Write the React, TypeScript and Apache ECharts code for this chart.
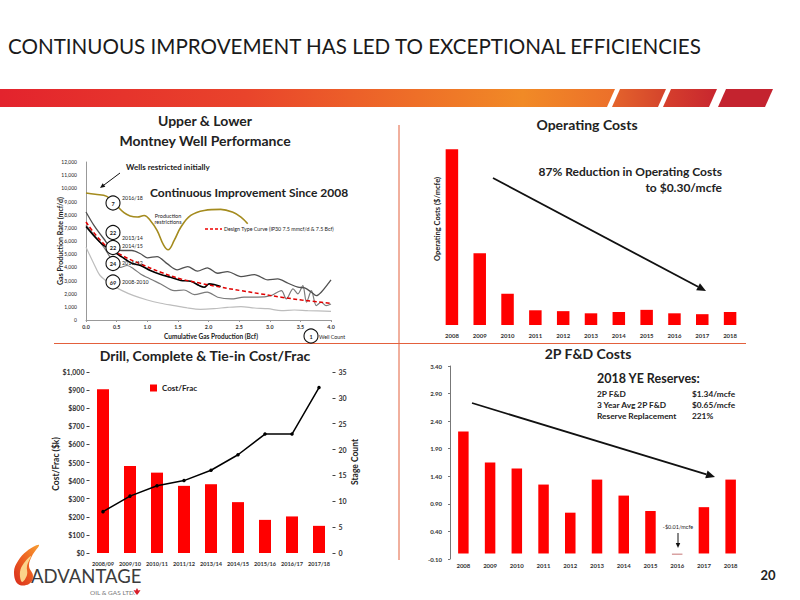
import React, { useEffect, useRef } from "react";
import * as echarts from "echarts";

// ---------- DATA ----------
// Upper & Lower Montney well performance: [cumulative Bcf, rate mcf/d]
const vintage2016_18: [number, number][] = [
  [0, 9650], [0.15, 9550], [0.34, 9390], [0.5, 8700], [0.62, 8150], [0.72, 7900], [0.84, 7820], [0.95, 7940],
  [1.05, 7560], [1.16, 6800], [1.27, 5660], [1.34, 5330], [1.44, 6040], [1.55, 7060], [1.71, 7940],
  [1.93, 8320], [2.2, 8400], [2.39, 8200], [2.53, 7820], [2.64, 7310],
];
const vintage2013_14: [number, number][] = [
  [0, 8200], [0.13, 7180], [0.29, 6170], [0.43, 5400], [0.59, 5280], [0.75, 5280], [0.89, 5030], [1.0, 4720],
  [1.16, 4820], [1.33, 4260], [1.49, 3810], [1.66, 4060], [1.82, 3710], [1.98, 3960], [2.15, 3550],
  [2.31, 3680], [2.53, 3300], [2.75, 3450], [2.97, 3050], [3.13, 3120], [3.3, 2790], [3.46, 2490],
  [3.57, 2440], [3.68, 2110], [3.76, 1850], [3.84, 2110], [3.95, 2740], [4.0, 3050],
];
const vintage2014_15: [number, number][] = [
  [0, 7100], [0.15, 6290], [0.29, 5660], [0.43, 5280], [0.59, 4770], [0.75, 4310], [0.89, 4140], [1.05, 3760],
  [1.22, 3450], [1.38, 3250], [1.55, 3000], [1.71, 2940], [1.85, 2610], [1.93, 2490], [2.01, 2740],
  [2.09, 2690], [2.2, 2540],
];
const vintage2011_12: [number, number][] = [
  [0, 7200], [0.29, 5530], [0.43, 4520], [0.56, 4000], [0.67, 4140], [0.78, 3880], [0.89, 3500], [1.05, 3120],
  [1.22, 2740], [1.44, 2230], [1.6, 2280], [1.77, 1930], [1.98, 2110], [2.15, 1730], [2.37, 1600],
  [2.58, 1730], [2.8, 1730], [3.02, 1850], [3.19, 2230], [3.27, 1600], [3.38, 2360], [3.46, 1980],
  [3.54, 2610], [3.6, 1350], [3.68, 2230], [3.76, 1090], [3.84, 1350], [3.92, 1090], [4.0, 1220],
];
const vintage2008_10: [number, number][] = [
  [0, 5530], [0.13, 4260], [0.23, 3380], [0.4, 2740], [0.59, 2230], [0.78, 1850], [1.0, 1520], [1.22, 1270],
  [1.44, 1090], [1.66, 910], [1.87, 810], [2.09, 860], [2.31, 960], [2.53, 1020], [2.75, 910], [2.97, 860],
  [3.19, 710], [3.4, 760], [3.62, 710], [4.0, 660],
];
const designTypeCurve: [number, number][] = [
  [0, 7440], [0.29, 5790], [0.59, 4900], [0.89, 4260], [1.22, 3630], [1.55, 3120], [1.87, 2790], [2.2, 2490],
  [2.53, 2230], [2.86, 1980], [3.19, 1730], [3.52, 1520], [4.0, 1270],
];
const wellCircles = ["7", "22", "22", "24", "69"];
const wellVintages = ["2016/18", "2013/14", "2014/15", "2011/12", "2008-2010"];

// Operating costs ($/mcfe)
const opexYears = ["2008", "2009", "2010", "2011", "2012", "2013", "2014", "2015", "2016", "2017", "2018"];
const opexValues = [4.06, 1.66, 0.72, 0.34, 0.32, 0.27, 0.3, 0.35, 0.27, 0.25, 0.3];

// Drill, complete & tie-in cost per frac
const fracPeriods = ["2008/09", "2009/10", "2010/11", "2011/12", "2013/14", "2014/15", "2015/16", "2016/17", "2017/18"];
const fracCost = [905, 481, 444, 371, 380, 281, 183, 202, 150];
const stageCount = [8, 11, 13, 14, 16, 19, 23, 23, 32];

// 2P F&D costs ($/mcfe)
const fdYears = ["2008", "2009", "2010", "2011", "2012", "2013", "2014", "2015", "2016", "2017", "2018"];
const fdValues = [2.21, 1.65, 1.54, 1.25, 0.74, 1.34, 1.05, 0.77, -0.01, 0.84, 1.34];

const reserveLabels = ["2P F&D", "3 Year Avg 2P F&D", "Reserve Replacement"];
const reserveValues = ["$1.34/mcfe", "$0.65/mcfe", "221%"];

// ---------- HELPERS ----------
const FONT = "Lato, 'Open Sans', sans-serif";
const RED = "#ff0000";

function txt(text: string, x: number, y: number, size: number, opts: any = {}) {
  return {
    type: "text",
    x,
    y,
    rotation: opts.rotation || 0,
    z: opts.z ?? 50,
    style: {
      text,
      fontSize: size,
      fontFamily: FONT,
      fontWeight: opts.weight || "normal",
      fill: opts.fill || "#222",
      align: opts.align || "left",
      textAlign: opts.align || "left",
      verticalAlign: "middle",
      textVerticalAlign: "middle",
    },
  };
}

function arrow(x1: number, y1: number, x2: number, y2: number, w: number, head: number) {
  const a = Math.atan2(y2 - y1, x2 - x1);
  const bx = x2 - head * Math.cos(a);
  const by = y2 - head * Math.sin(a);
  const hw = head * 0.45;
  return [
    { type: "line", z: 60, shape: { x1, y1, x2: bx, y2: by }, style: { stroke: "#111", lineWidth: w } },
    {
      type: "polygon",
      z: 60,
      shape: {
        points: [
          [x2, y2],
          [bx + hw * Math.sin(a), by - hw * Math.cos(a)],
          [bx - hw * Math.sin(a), by + hw * Math.cos(a)],
        ],
      },
      style: { fill: "#111" },
    },
  ];
}

function circleLabel(cx: number, cy: number, label: string) {
  return [
    { type: "circle", z: 80, shape: { cx, cy, r: 7 }, style: { fill: "#fff", stroke: "#111", lineWidth: 1.1 } },
    txt(label, cx, cy + 0.5, 5.5, { align: "center", weight: "bold", z: 81 }),
  ];
}

export default function App() {
  const ref = useRef<HTMLDivElement>(null);

  useEffect(() => {
    if (!ref.current) return;
    const chart = echarts.init(ref.current, undefined, { renderer: "svg" });

    const smallLabel = { fontSize: 6, fontFamily: FONT, fontWeight: "bold", color: "#333" };

    const graphics: any[] = [];
    // header
    graphics.push(txt("CONTINUOUS IMPROVEMENT HAS LED TO EXCEPTIONAL EFFICIENCIES", 8, 46, 20.6, { fill: "#1a1a1a" }));
    graphics.push({
      type: "polygon",
      shape: { points: [[0, 89], [615, 89], [607, 107], [0, 107]] },
      style: {
        fill: new echarts.graphic.LinearGradient(0, 0, 1, 0, [
          { offset: 0, color: "#e3232d" },
          { offset: 0.4, color: "#e9442b" },
          { offset: 0.85, color: "#f18a26" },
          { offset: 1, color: "#ec6f2a" },
        ]),
      },
    });
    graphics.push({
      type: "polygon",
      shape: { points: [[620, 89], [666, 89], [658, 107], [612, 107]] },
      style: { fill: new echarts.graphic.LinearGradient(0, 0, 1, 0, [{ offset: 0, color: "#e4642c" }, { offset: 1, color: "#d4432c" }]) },
    });
    graphics.push({
      type: "polygon",
      shape: { points: [[671, 89], [717, 89], [709, 107], [663, 107]] },
      style: { fill: new echarts.graphic.LinearGradient(0, 0, 1, 0, [{ offset: 0, color: "#d6402c" }, { offset: 1, color: "#c8262f" }]) },
    });
    graphics.push({
      type: "polygon",
      shape: { points: [[726, 89], [773, 89], [765, 107], [718, 107]] },
      style: { fill: "#c4232f" },
    });
    // dividers
    graphics.push({ type: "line", shape: { x1: 399, y1: 125, x2: 399, y2: 560 }, style: { stroke: "#e3603c", lineWidth: 1 } });
    graphics.push({ type: "line", shape: { x1: 54, y1: 343.5, x2: 746, y2: 343.5 }, style: { stroke: "#e3603c", lineWidth: 1 } });

    // subtitles
    graphics.push(txt("Upper & Lower", 205, 120, 14, { align: "center", weight: "bold" }));
    graphics.push(txt("Montney Well Performance", 205, 140, 14, { align: "center", weight: "bold" }));
    graphics.push(txt("Operating Costs", 587, 124, 14, { align: "center", weight: "bold" }));
    graphics.push(txt("Drill, Complete & Tie-in Cost/Frac", 205, 355, 14, { align: "center", weight: "bold" }));
    graphics.push(txt("2P F&D Costs", 588, 353, 14, { align: "center", weight: "bold" }));

    // well chart annotations
    graphics.push(txt("Gas Production Rate (mcf/d)", 60, 241, 7, { align: "center", weight: "bold", rotation: Math.PI / 2 }));
    graphics.push(txt("Cumulative Gas Production (Bcf)", 211, 336.5, 6.5, { align: "center", weight: "bold" }));
    graphics.push(txt("Wells restricted initially", 126, 167, 8, { weight: "bold" }));
    graphics.push(...arrow(120, 173, 100, 188, 1, 5));
    graphics.push(txt("Continuous Improvement Since 2008", 150, 192, 12, { weight: "bold" }));
    graphics.push(txt("Production", 168, 216, 5.5, { align: "center" }));
    graphics.push(txt("restrictions", 168, 222, 5.5, { align: "center" }));
    graphics.push({ type: "line", z: 60, shape: { x1: 205, y1: 229, x2: 222, y2: 229 }, style: { stroke: "#e00", lineWidth: 1.3, lineDash: [3, 2] } });
    graphics.push(txt("Design Type Curve (IP30 7.5 mmcf/d & 7.5 Bcf)", 224, 229, 5.3, {}));
    const circleYs = [203, 232.5, 247.5, 263.5, 282];
    const vintageYs = [198, 238, 246, 263, 282];
    wellCircles.forEach((c, i) => {
      graphics.push(...circleLabel(113, circleYs[i], c));
      graphics.push(txt(wellVintages[i], 122, vintageYs[i], 5.3, { z: 82 }));
    });
    graphics.push(...circleLabel(311, 336, "1"));
    graphics.push(txt("Well Count", 319, 336.5, 5.3, {}));

    // opex annotations
    graphics.push(txt("Operating Costs ($/mcfe)", 437, 219, 7.5, { align: "center", weight: "bold", rotation: Math.PI / 2 }));
    graphics.push(txt("87% Reduction in Operating Costs", 722, 171.5, 12, { align: "right", weight: "bold" }));
    graphics.push(txt("to $0.30/mcfe", 722, 187.5, 12, { align: "right", weight: "bold" }));
    graphics.push(...arrow(493, 178, 706, 291, 1.8, 9));

    // drill annotations
    graphics.push(txt("Cost/Frac ($k)", 56, 464, 8.5, { align: "center", weight: "bold", rotation: Math.PI / 2 }));
    graphics.push(txt("Stage Count", 355, 462, 8.5, { align: "center", weight: "bold", rotation: Math.PI / 2 }));

    // 2P annotations
    graphics.push(txt("2018 YE Reserves:", 597, 378, 12.5, { weight: "bold" }));
    const rowYs = [394, 405, 416];
    reserveLabels.forEach((l, i) => {
      graphics.push(txt(l, 597, rowYs[i], 8.3, { weight: "bold" }));
      graphics.push(txt(reserveValues[i], 692, rowYs[i], 8.3, { weight: "bold" }));
    });
    graphics.push(...arrow(472, 403, 715, 477, 1.8, 9));
    graphics.push(txt("-$0.01/mcfe", 678, 527, 5.5, { align: "center" }));
    graphics.push(...arrow(678, 533, 678, 548, 1, 5));

    // logo
    graphics.push({
      type: "polygon",
      shape: { points: [[18, 584], [14, 572], [18, 561], [27, 551], [39, 545], [32, 556], [29, 566], [33, 576], [29, 584]], smooth: 0.4 },
      style: {
        fill: new echarts.graphic.LinearGradient(0, 1, 1, 0, [
          { offset: 0, color: "#d92a1c" },
          { offset: 0.6, color: "#ef6a22" },
          { offset: 1, color: "#f8a035" },
        ]),
      },
    });
    graphics.push({
      type: "polygon",
      shape: { points: [[22, 582], [20, 572], [24, 563], [31, 556], [27, 566], [27, 575]], smooth: 0.4 },
      style: { fill: "#fbd38a" },
    });
    graphics.push(txt("ADVANTAGE", 31, 576, 18.5, { fill: "#3c3c3c" }));
    graphics.push(txt("OIL & GAS LTD.", 90, 592, 6.5, { fill: "#777" }));
    graphics.push({
      type: "polygon",
      shape: { points: [[137, 588], [138.3, 590.5], [140.5, 590], [139, 592.5], [137, 595], [135, 592.5], [133.5, 590], [135.7, 590.5]] },
      style: { fill: "#d81e2a" },
    });
    graphics.push(txt("20", 768, 575, 13, { align: "center", weight: "bold" }));

    const fdData = fdValues.map((v) => (v < 0 ? { value: v, itemStyle: { color: "#d9a3a3" } } : v));

    chart.setOption({
      animation: false,
      backgroundColor: "#fff",
      textStyle: { fontFamily: FONT },
      legend: {
        data: ["Cost/Frac"],
        left: 145,
        top: 379,
        itemWidth: 7,
        itemHeight: 7,
        icon: "rect",
        textStyle: { fontSize: 8, fontWeight: "bold", fontFamily: FONT, color: "#222" },
      },
      grid: [
        { left: 86, top: 162, width: 245, height: 158 },
        { left: 438, top: 141, width: 306, height: 184 },
        { left: 89.5, top: 372, width: 243, height: 181 },
        { left: 450, top: 366, width: 294, height: 193 },
      ],
      xAxis: [
        {
          type: "value", gridIndex: 0, min: 0, max: 4, interval: 0.5,
          axisLine: { lineStyle: { color: "#999" } },
          axisTick: { show: true, length: 2, lineStyle: { color: "#999" } },
          axisLabel: { ...smallLabel, fontSize: 5.3, margin: 4, formatter: (v: number) => v.toFixed(1) },
          splitLine: { show: false },
        },
        {
          type: "category", gridIndex: 1, data: opexYears,
          axisLine: { show: false }, axisTick: { show: false },
          axisLabel: { ...smallLabel, margin: 7 },
        },
        {
          type: "category", gridIndex: 2, data: fracPeriods,
          axisLine: { show: false }, axisTick: { show: false },
          axisLabel: { ...smallLabel, fontSize: 5.6, margin: 7, interval: 0 },
        },
        {
          type: "category", gridIndex: 3, data: fdYears,
          axisLine: { show: false, onZero: false }, axisTick: { show: false },
          axisLabel: { ...smallLabel, margin: 3, interval: 0 },
        },
      ],
      yAxis: [
        {
          type: "value", gridIndex: 0, min: 0, max: 12000, interval: 1000,
          axisLine: { show: true, lineStyle: { color: "#999" } },
          axisTick: { show: false },
          axisLabel: { ...smallLabel, fontSize: 5, fontWeight: "normal", color: "#222", margin: 9, formatter: (v: number) => v.toLocaleString("en-US") },
          splitLine: { show: false },
        },
        {
          type: "value", gridIndex: 1, min: 0, max: 4.25,
          axisLine: { show: false }, axisTick: { show: false }, axisLabel: { show: false }, splitLine: { show: false },
        },
        {
          type: "value", gridIndex: 2, min: 0, max: 1000, interval: 100, position: "left",
          axisLine: { show: false },
          axisTick: { show: true, length: 3, lineStyle: { color: "#444" } },
          axisLabel: { ...smallLabel, fontSize: 7, margin: 5, formatter: (v: number) => "$" + v.toLocaleString("en-US") },
          splitLine: { show: false },
        },
        {
          type: "value", gridIndex: 2, min: 0, max: 35, interval: 5, position: "right",
          axisLine: { show: false },
          axisTick: { show: true, length: 3, lineStyle: { color: "#444" } },
          axisLabel: { ...smallLabel, fontSize: 7, margin: 6 },
          splitLine: { show: false },
        },
        {
          type: "value", gridIndex: 3, min: -0.1, max: 3.4, interval: 0.5,
          axisLine: { show: true, onZero: false, lineStyle: { color: "#777" } },
          axisTick: { show: true, length: 2, lineStyle: { color: "#777" } },
          axisLabel: { ...smallLabel, fontSize: 6, margin: 8, formatter: (v: number) => v.toFixed(2) },
          splitLine: { show: false },
        },
      ],
      series: [
        { name: "2008-2010", type: "line", xAxisIndex: 0, yAxisIndex: 0, data: vintage2008_10, smooth: 0.3, showSymbol: false, lineStyle: { color: "#bdbdbd", width: 1.2 } },
        { name: "2011/12", type: "line", xAxisIndex: 0, yAxisIndex: 0, data: vintage2011_12, smooth: 0.3, showSymbol: false, lineStyle: { color: "#7a7a7a", width: 1.2 } },
        { name: "2013/14", type: "line", xAxisIndex: 0, yAxisIndex: 0, data: vintage2013_14, smooth: 0.3, showSymbol: false, lineStyle: { color: "#505050", width: 1.3 } },
        { name: "2014/15", type: "line", xAxisIndex: 0, yAxisIndex: 0, data: vintage2014_15, smooth: 0.3, showSymbol: false, lineStyle: { color: "#000", width: 1.6 } },
        { name: "Design Type Curve", type: "line", xAxisIndex: 0, yAxisIndex: 0, data: designTypeCurve, smooth: 0.4, showSymbol: false, lineStyle: { color: "#e00000", width: 1.5, type: [4, 2.5] } },
        { name: "2016/18", type: "line", xAxisIndex: 0, yAxisIndex: 0, data: vintage2016_18, smooth: 0.4, showSymbol: false, lineStyle: { color: "#a48b1e", width: 1.6 } },
        { name: "Operating Costs", type: "bar", xAxisIndex: 1, yAxisIndex: 1, data: opexValues, barWidth: 12.5, itemStyle: { color: RED } },
        { name: "Cost/Frac", type: "bar", xAxisIndex: 2, yAxisIndex: 2, data: fracCost, barWidth: 12, itemStyle: { color: RED } },
        { name: "Stage Count", type: "line", xAxisIndex: 2, yAxisIndex: 3, data: stageCount, symbol: "circle", symbolSize: 3.5, itemStyle: { color: "#000" }, lineStyle: { color: "#000", width: 1.5 } },
        { name: "2P F&D", type: "bar", xAxisIndex: 3, yAxisIndex: 4, data: fdData, barWidth: 10.5, barMinHeight: 1.5, itemStyle: { color: RED } },
      ],
      graphic: { elements: graphics },
    });

    return () => chart.dispose();
  }, []);

  return <div ref={ref} style={{ position: "fixed", left: 0, top: 0, width: 800, height: 600, background: "#fff" }} />;
}
